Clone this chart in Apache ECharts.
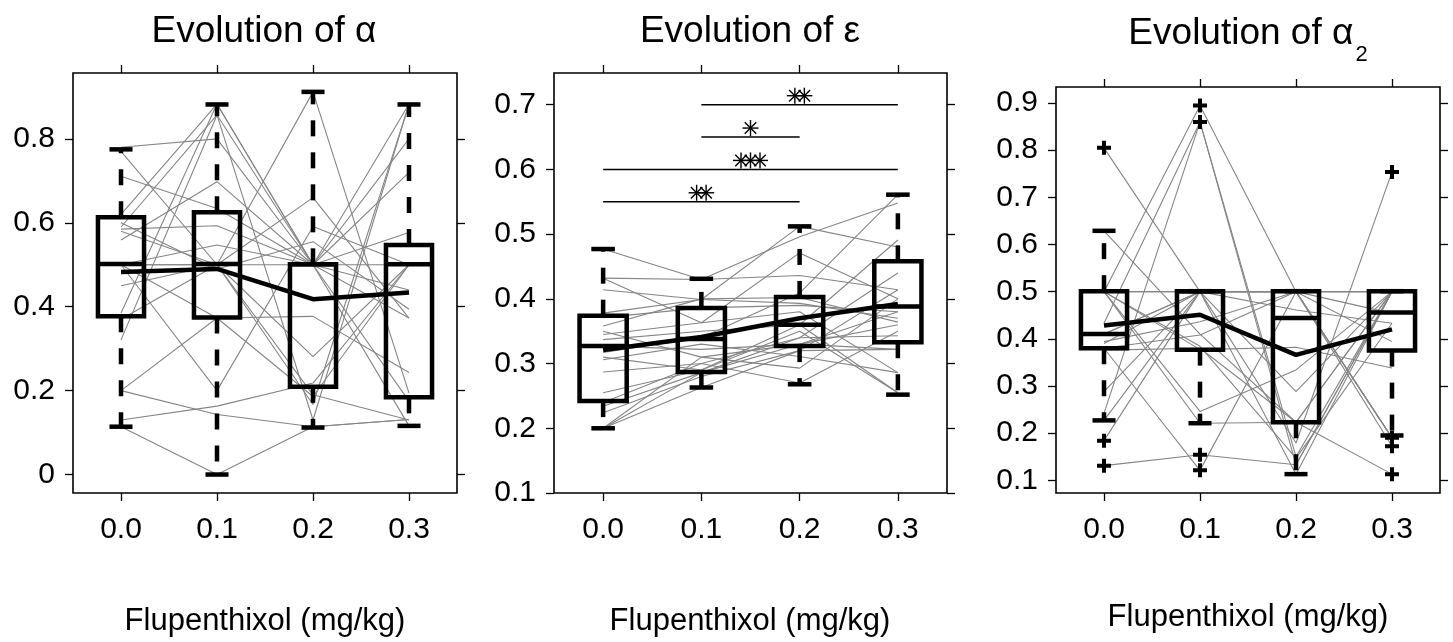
<!DOCTYPE html>
<html lang="en">
<head>
<meta charset="UTF-8">
<title>Evolution of alpha, epsilon and alpha2 with Flupenthixol</title>
<script src="https://cdn.jsdelivr.net/npm/echarts@6.0.0/dist/echarts.min.js"></script>
<style>
    html, body { margin: 0; padding: 0; background: #fff; }
    #chart { width: 1453px; height: 642px; }
</style>
</head>
<body>
<div id="chart"></div>
<script>
// dose levels (x axis of every panel)
const doses = ['0.0', '0.1', '0.2', '0.3'];

// ---- panel 1 : alpha ----
const alphaSubjects = [
    [0.5, 0.5, 0.5, 0.5],
    [0.78, 0.80, 0.5, 0.44],
    [0.77, 0.5, 0.19, 0.13],
    [0.711, 0.634, 0.5, 0.373],
    [0.62, 0.883, 0.5, 0.883],
    [0.59, 0.857, 0.13, 0.883],
    [0.585, 0.593, 0.5, 0.8],
    [0.58, 0.5, 0.66, 0.373],
    [0.559, 0.698, 0.5, 0.72],
    [0.6, 0.49, 0.555, 0.394],
    [0.5, 0.547, 0.5, 0.577],
    [0.5, 0.5, 0.281, 0.5],
    [0.45, 0.5, 0.167, 0.883],
    [0.385, 0.883, 0.5, 0.175],
    [0.37, 0.5, 0.912, 0.194],
    [0.321, 0.857, 0.5, 0.116],
    [0.2, 0.373, 0.377, 0.243],
    [0.2, 0.143, 0.114, 0.131],
    [0.13, 0.163, 0.218, 0.5],
    [0.114, 0.0, 0.114, 0.131],
    [0.5, 0.2, 0.591, 0.5],
    [0.5, 0.373, 0.186, 0.5]
];
// [dose index, low whisker, Q1, median, Q3, high whisker]
const alphaBoxes = [
    [0, 0.114, 0.377, 0.502, 0.613, 0.775],
    [1, 0.0, 0.374, 0.502, 0.625, 0.882],
    [2, 0.112, 0.209, 0.501, 0.501, 0.912],
    [3, 0.116, 0.184, 0.501, 0.547, 0.882]
];
const alphaMeans = [0.483, 0.49, 0.418, 0.434];
const alphaTicks = [0, 0.2, 0.4, 0.6, 0.8];

// ---- panel 2 : epsilon ----
const epsSubjects = [
    [0.477, 0.43, 0.496, 0.548],
    [0.432, 0.43, 0.436, 0.414],
    [0.432, 0.363, 0.471, 0.40],
    [0.414, 0.399, 0.393, 0.37],
    [0.378, 0.399, 0.512, 0.48],
    [0.371, 0.386, 0.39, 0.38],
    [0.358, 0.40, 0.402, 0.364],
    [0.345, 0.363, 0.38, 0.286],
    [0.337, 0.35, 0.36, 0.255],
    [0.327, 0.322, 0.33, 0.36],
    [0.317, 0.34, 0.409, 0.561],
    [0.306, 0.33, 0.311, 0.286],
    [0.287, 0.30, 0.34, 0.44],
    [0.255, 0.29, 0.35, 0.255],
    [0.234, 0.286, 0.33, 0.38],
    [0.224, 0.28, 0.32, 0.322],
    [0.2, 0.263, 0.32, 0.414],
    [0.2, 0.286, 0.34, 0.343],
    [0.2, 0.31, 0.33, 0.322],
    [0.24, 0.30, 0.27, 0.35],
    [0.35, 0.31, 0.293, 0.40],
    [0.31, 0.29, 0.36, 0.491]
];
const epsBoxes = [
    [0, 0.2, 0.242, 0.327, 0.374, 0.477],
    [1, 0.263, 0.287, 0.338, 0.386, 0.431],
    [2, 0.268, 0.327, 0.36, 0.403, 0.512],
    [3, 0.252, 0.333, 0.388, 0.458, 0.561]
];
const epsMeans = [0.321, 0.341, 0.37, 0.392];
const epsTicks = [0.1, 0.2, 0.3, 0.4, 0.5, 0.6, 0.7];
// significance bars: from dose, to dose, height, number of stars
const sigFrom = [1, 1, 0, 0];
const sigTo = [3, 2, 3, 2];
const sigY = [0.7, 0.65, 0.6, 0.55];
const sigStars = [2, 1, 3, 2];

// ---- panel 3 : alpha2 ----
const alpha2Subjects = [
    [0.805, 0.5, 0.5, 0.19],
    [0.629, 0.41, 0.223, 0.5],
    [0.5, 0.895, 0.5, 0.172],
    [0.5, 0.5, 0.5, 0.5],
    [0.5, 0.5, 0.461, 0.433],
    [0.433, 0.86, 0.15, 0.5],
    [0.41, 0.5, 0.5, 0.454],
    [0.394, 0.436, 0.5, 0.394],
    [0.38, 0.121, 0.5, 0.19],
    [0.376, 0.38, 0.223, 0.5],
    [0.5, 0.377, 0.382, 0.338],
    [0.288, 0.5, 0.288, 0.5],
    [0.242, 0.86, 0.133, 0.5],
    [0.227, 0.5, 0.179, 0.754],
    [0.184, 0.5, 0.113, 0.5],
    [0.131, 0.154, 0.133, 0.5],
    [0.5, 0.246, 0.334, 0.5],
    [0.5, 0.221, 0.223, 0.113],
    [0.41, 0.5, 0.5, 0.5],
    [0.38, 0.408, 0.5, 0.19],
    [0.5, 0.384, 0.147, 0.433],
    [0.39, 0.5, 0.5, 0.5]
];
const alpha2Boxes = [
    [0, 0.227, 0.38, 0.41, 0.501, 0.629],
    [1, 0.221, 0.377, 0.501, 0.501, 0.501],
    [2, 0.113, 0.223, 0.444, 0.501, 0.501],
    [3, 0.195, 0.375, 0.456, 0.501, 0.501]
];
const alpha2Means = [0.428, 0.451, 0.366, 0.42];
const alpha2Outliers = [
    [0, 0.805], [0, 0.184], [0, 0.131],
    [1, 0.895], [1, 0.86], [1, 0.154], [1, 0.121],
    [3, 0.754], [3, 0.19], [3, 0.172], [3, 0.113]
];
const alpha2Ticks = [0.1, 0.2, 0.3, 0.4, 0.5, 0.6, 0.7, 0.8, 0.9];

const FONT = "'Liberation Sans', Arial, Helvetica, sans-serif";
const LW = 4.5;

const panels = [
    { subjects: alphaSubjects, boxes: alphaBoxes, means: alphaMeans, ticks: alphaTicks,
      min: -0.044, max: 0.957, grid: { left: 73, top: 73, width: 384, height: 420 } },
    { subjects: epsSubjects, boxes: epsBoxes, means: epsMeans, ticks: epsTicks,
      min: 0.1, max: 0.749, grid: { left: 554, top: 73, width: 393, height: 420 } },
    { subjects: alpha2Subjects, boxes: alpha2Boxes, means: alpha2Means, ticks: alpha2Ticks,
      min: 0.073, max: 0.934, grid: { left: 1056, top: 87, width: 384, height: 406 },
      outliers: alpha2Outliers }
];

function renderBox(params, api) {
    const x = api.value(0);
    const lo = api.coord([x, api.value(1)]);
    const q1 = api.coord([x, api.value(2)]);
    const md = api.coord([x, api.value(3)]);
    const q3 = api.coord([x, api.value(4)]);
    const hi = api.coord([x, api.value(5)]);
    const band = api.size([1, 0])[0];
    const bw = band * 0.48, cw = band * 0.24;
    const cx = q1[0];
    const solid = { stroke: '#000', lineWidth: LW };
    const dashed = { stroke: '#000', lineWidth: LW, lineDash: [16, 16] };
    return {
        type: 'group',
        children: [
            { type: 'line', shape: { x1: cx, y1: q3[1], x2: cx, y2: hi[1] }, style: dashed },
            { type: 'line', shape: { x1: cx, y1: q1[1], x2: cx, y2: lo[1] }, style: dashed },
            { type: 'line', shape: { x1: cx - cw / 2, y1: hi[1], x2: cx + cw / 2, y2: hi[1] }, style: solid },
            { type: 'line', shape: { x1: cx - cw / 2, y1: lo[1], x2: cx + cw / 2, y2: lo[1] }, style: solid },
            { type: 'rect', shape: { x: cx - bw / 2, y: q3[1], width: bw, height: q1[1] - q3[1] },
              style: { stroke: '#000', lineWidth: LW, fill: 'none' } },
            { type: 'line', shape: { x1: cx - bw / 2, y1: md[1], x2: cx + bw / 2, y2: md[1] }, style: solid }
        ]
    };
}

// significance bar with asterisks drawn above its middle
function renderSig(params, api) {
    const y = api.value(2);
    const p1 = api.coord([api.value(0), y]);
    const p2 = api.coord([api.value(1), y]);
    const n = api.value(3);
    const mx = (p1[0] + p2[0]) / 2;
    const sy = p1[1] - 9;
    const thin = { stroke: '#000', lineWidth: 1.4 };
    const children = [
        { type: 'line', shape: { x1: p1[0], y1: p1[1], x2: p2[0], y2: p2[1] }, style: thin }
    ];
    const r = 8, d = r * 0.72;
    for (let k = 0; k < n; k++) {
        const sx = mx + (k - (n - 1) / 2) * 9.5;
        children.push(
            { type: 'line', shape: { x1: sx, y1: sy - r, x2: sx, y2: sy + r }, style: thin },
            { type: 'line', shape: { x1: sx - r, y1: sy, x2: sx + r, y2: sy }, style: thin },
            { type: 'line', shape: { x1: sx - d, y1: sy - d, x2: sx + d, y2: sy + d }, style: thin },
            { type: 'line', shape: { x1: sx - d, y1: sy + d, x2: sx + d, y2: sy - d }, style: thin }
        );
    }
    return { type: 'group', children: children };
}

const tickStyle = { color: '#000', width: 1.3 };
const grids = [], xAxes = [], yAxes = [], series = [];

panels.forEach((p, i) => {
    grids.push(Object.assign({ show: true, borderColor: '#000', borderWidth: 1.6,
        backgroundColor: 'transparent', containLabel: false }, p.grid));

    const xBase = {
        gridIndex: i, type: 'category', data: doses, boundaryGap: true,
        axisLine: { show: false, onZero: false }, splitLine: { show: false },
        axisTick: { show: true, alignWithLabel: true, interval: 0, length: 8, lineStyle: tickStyle }
    };
    xAxes.push(Object.assign({}, xBase, { position: 'bottom',
        axisLabel: { color: '#000', fontSize: 30, fontFamily: FONT, margin: 22, interval: 0 } }));
    xAxes.push(Object.assign({}, xBase, { position: 'top', axisLabel: { show: false } }));

    const yBase = {
        gridIndex: i, type: 'value', min: p.min, max: p.max,
        axisLine: { show: false, onZero: false }, splitLine: { show: false }
    };
    yAxes.push(Object.assign({}, yBase, { position: 'left',
        axisTick: { show: true, length: 8, lineStyle: tickStyle, customValues: p.ticks },
        axisLabel: { color: '#000', fontSize: 30, fontFamily: FONT, margin: 18,
            padding: [6, 0, 0, 0], customValues: p.ticks, formatter: v => String(v) } }));
    yAxes.push(Object.assign({}, yBase, { position: 'right',
        axisTick: { show: true, length: 8, lineStyle: tickStyle, customValues: p.ticks },
        axisLabel: { show: false } }));

    const xi = i * 2, yi = i * 2;
    p.subjects.forEach(s => {
        series.push({
            type: 'line', xAxisIndex: xi, yAxisIndex: yi, data: s,
            symbol: 'none', silent: true, z: 1,
            lineStyle: { color: '#858585', width: 1.1 }
        });
    });
    series.push({
        type: 'custom', xAxisIndex: xi, yAxisIndex: yi, data: p.boxes,
        encode: { x: 0, y: [1, 2, 3, 4, 5] }, renderItem: renderBox, silent: true, z: 3
    });
    series.push({
        type: 'line', xAxisIndex: xi, yAxisIndex: yi, data: p.means,
        symbol: 'none', silent: true, z: 4,
        lineStyle: { color: '#000', width: LW }
    });
    if (p.outliers) {
        series.push({
            type: 'scatter', xAxisIndex: xi, yAxisIndex: yi, data: p.outliers,
            symbol: 'path://M5,0h4v5h5v4h-5v5h-4v-5h-5v-4h5z', symbolSize: 14,
            itemStyle: { color: '#000', opacity: 1 }, silent: true, z: 5
        });
    }
});

// significance bars in the epsilon panel
series.push({
    type: 'custom', xAxisIndex: 2, yAxisIndex: 2,
    data: sigFrom.map((f, k) => [f, sigTo[k], sigY[k], sigStars[k]]),
    encode: { x: [0, 1], y: 2 }, renderItem: renderSig, silent: true, z: 5
});

const TITLE_SIZE = 37, SUB_SIZE = 22;
const txt = (text, x, y, size, align) => ({
    type: 'text', x: x, y: y, silent: true,
    style: { text: text, fontSize: size, fontFamily: FONT, fill: '#000',
        align: align || 'center', verticalAlign: 'middle' }
});

// third title has a subscript: centre main text + subscript as one block
const measure = document.createElement('canvas').getContext('2d');
measure.font = TITLE_SIZE + 'px ' + FONT;
const mainW = measure.measureText('Evolution of α').width;
measure.font = SUB_SIZE + 'px ' + FONT;
const subW = measure.measureText('2').width;
const t3Left = 1248 - (mainW + 2 + subW) / 2;

const chart = echarts.init(document.getElementById('chart'), null, { renderer: 'canvas' });
chart.setOption({
    backgroundColor: '#fff',
    animation: false,
    grid: grids,
    xAxis: xAxes,
    yAxis: yAxes,
    series: series,
    graphic: [
        txt('Evolution of α', 264, 32, TITLE_SIZE),
        txt('Evolution of ε', 750, 32, TITLE_SIZE),
        txt('Evolution of α', t3Left, 34, TITLE_SIZE, 'left'),
        txt('2', t3Left + mainW + 2, 55, SUB_SIZE, 'left'),
        txt('Flupenthixol (mg/kg)', 265, 621, 31),
        txt('Flupenthixol (mg/kg)', 750, 621, 31),
        txt('Flupenthixol (mg/kg)', 1248, 617, 31)
    ]
});
</script>
</body>
</html>
